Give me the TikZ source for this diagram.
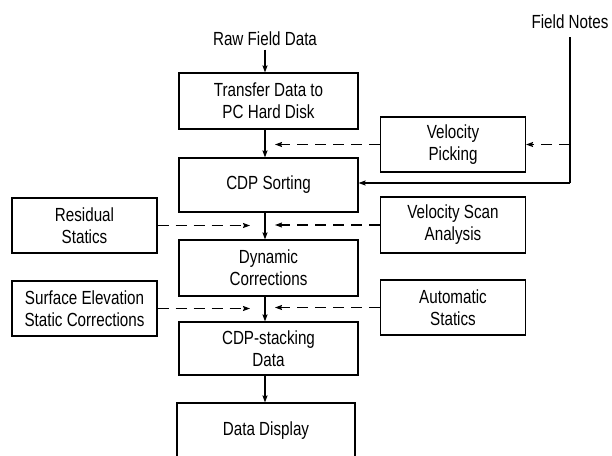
\documentclass[tikz,border=0pt]{standalone}
\usepackage{fontspec}
\setmainfont[FakeStretch=0.8]{Liberation Sans}
\usetikzlibrary{arrows.meta}
\begin{document}
\begin{tikzpicture}[x=1pt,y=-1pt,
  every node/.style={font=\fontsize{19}{22}\selectfont},
  box/.style={draw,line width=1.1pt,align=center,inner sep=0pt},
  wide/.style={box,minimum width=179pt},
  side/.style={box,minimum width=145pt},
  conn/.style={line width=1.1pt,-{Stealth[length=7pt,width=5pt,inset=1pt]}},
  dconn/.style={conn,dash pattern=on 11pt off 7pt},
  plain/.style={line width=1.1pt}]
\useasboundingbox (0,0) rectangle (612,455);
\node (raw) at (265,39) {Raw Field Data};
\node[inner sep=0pt] (fn) at (570,22) {Field Notes};
\node[wide,minimum height=56pt] (transfer) at (268.5,101) {Transfer Data to\\PC Hard Disk};
\node[wide,minimum height=54pt] (cdp) at (268.5,185) {CDP Sorting};
\node[side,minimum height=55pt] (velpick) at (453,144.5) {Velocity\\Picking};
\node[side,minimum height=55pt] (resid) at (84.5,225.5) {Residual\\Statics};
\node[side,minimum height=56pt] (velscan) at (453,225) {Velocity Scan\\Analysis};
\node[wide,minimum height=56pt] (dyn) at (268.5,268) {Dynamic\\Corrections};
\node[side,minimum height=55pt] (surf) at (84.5,308.5) {Surface Elevation\\Static Corrections};
\node[side,minimum height=55pt] (auto) at (453,307.5) {Automatic\\Statics};
\node[wide,minimum height=53pt] (stack) at (268.5,348.5) {CDP-stacking\\Data};
\node[box,minimum width=178pt,minimum height=55pt] (disp) at (266,430.5) {Data Display};
% spine
\draw[conn] (raw.south -| 265,0) -- (transfer.north -| 265,0);
\draw[conn] (transfer.south -| 265,0) -- (cdp.north -| 265,0);
\draw[conn] (cdp.south -| 265,0) -- (dyn.north -| 265,0);
\draw[conn] (dyn.south -| 265,0) -- (stack.north -| 265,0);
\draw[conn] (stack.south -| 265,0) -- (disp.north -| 265,0);
% field notes
\coordinate (fntop) at (570,37);
\coordinate (fnv) at (570,144.5);
\coordinate (fncorner) at (570,183);
\draw[plain] (fntop) -- (fncorner);
\draw[conn] (fncorner) -- (fncorner -| cdp.east);
\draw[dconn] (fnv) -- (velpick.east);
% dashed inputs
\coordinate (vpend) at (275,144.5);
\draw[dconn] (velpick.west) -- (vpend);
\coordinate (rl) at (250,225.5);
\draw[dconn] (resid.east) -- (rl);
\coordinate (vr) at (275,225);
\draw[dconn] (velscan.west) -- (vr);
\coordinate (sl) at (250,308.5);
\draw[dconn] (surf.east) -- (sl);
\coordinate (ar) at (275,307.5);
\draw[dconn] (auto.west) -- (ar);
\end{tikzpicture}
\end{document}
